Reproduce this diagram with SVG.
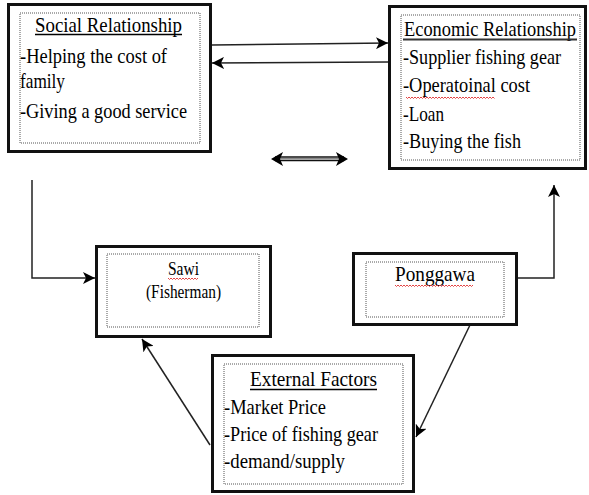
<svg xmlns="http://www.w3.org/2000/svg" width="589" height="495" viewBox="0 0 589 495">
<defs>
<marker id="ah" markerUnits="userSpaceOnUse" markerWidth="14" markerHeight="12" refX="12" refY="6" orient="auto">
<path d="M0,0 L12,6 L0,12 L3,6 Z" fill="#000"/>
</marker>
</defs>
<style>
.outer{fill:#fff;stroke:#111;stroke-width:3}
.inner{fill:none;stroke:#555;stroke-width:1;stroke-dasharray:1 1}
text{font-family:"Liberation Serif","Times New Roman",serif;font-size:21px;fill:#000}
.small{font-size:18px}
.ul{stroke:#000;stroke-width:1.3}
.sq{fill:none;stroke:#e03030;stroke-width:0.9}
.conn{fill:none;stroke:#222;stroke-width:1.5}
</style>
<rect width="589" height="495" fill="#fff"/>
<g id="connectors">
<path class="conn" d="M212,45 L388,43" marker-end="url(#ah)"/>
<path class="conn" d="M388,62 L212,63" marker-end="url(#ah)"/>
<path class="conn" d="M32,180 L32,278 L95,278" marker-end="url(#ah)"/>
<path class="conn" d="M517,278 L554,278 L554,185" marker-end="url(#ah)"/>
<path class="conn" d="M470,325 L416,437" marker-end="url(#ah)"/>
<path class="conn" d="M210,445 L142,339" marker-end="url(#ah)"/>
<g id="double-arrow">
<line x1="275" y1="157" x2="344" y2="157" stroke="#111" stroke-width="1.3"/>
<line x1="275" y1="160.5" x2="344" y2="160.5" stroke="#111" stroke-width="1.3"/>
<line x1="275" y1="158.8" x2="344" y2="158.8" stroke="#888" stroke-width="1.5"/>
<path d="M271,159 L283,152 L280,159 L283,166 Z" fill="#000"/>
<path d="M348,159 L336,152 L339,159 L336,166 Z" fill="#000"/>
</g>
</g>
<g id="social">
<rect class="outer" x="8.5" y="4.5" width="202" height="147"/>
<rect class="inner" x="20" y="13" width="180" height="130"/>
<text x="35" y="32" textLength="147" lengthAdjust="spacingAndGlyphs">Social Relationship</text>
<line class="ul" x1="35" y1="34.5" x2="182" y2="34.5"/>
<text x="20" y="63" textLength="147" lengthAdjust="spacingAndGlyphs">-Helping the cost of</text>
<text x="20" y="88" textLength="45" lengthAdjust="spacingAndGlyphs">family</text>
<text x="20" y="118" textLength="167" lengthAdjust="spacingAndGlyphs">-Giving a good service</text>
</g>
<g id="economic">
<rect class="outer" x="389.5" y="6.5" width="196" height="162"/>
<rect class="inner" x="401" y="15" width="179" height="145"/>
<text x="404" y="36" textLength="172" lengthAdjust="spacingAndGlyphs">Economic Relationship</text>
<line x1="403" y1="39.5" x2="577" y2="39.5" stroke="#333" stroke-width="1.8"/>
<text x="403" y="64" textLength="158" lengthAdjust="spacingAndGlyphs">-Supplier fishing gear</text>
<text x="403" y="92" textLength="127" lengthAdjust="spacingAndGlyphs">-Operatoinal cost</text>
<path class="sq" d="M406,97 l1.5,1.5 l1.5,-1.5 l1.5,1.5 l1.5,-1.5 l1.5,1.5 l1.5,-1.5 l1.5,1.5 l1.5,-1.5 l1.5,1.5 l1.5,-1.5 l1.5,1.5 l1.5,-1.5 l1.5,1.5 l1.5,-1.5 l1.5,1.5 l1.5,-1.5 l1.5,1.5 l1.5,-1.5 l1.5,1.5 l1.5,-1.5 l1.5,1.5 l1.5,-1.5 l1.5,1.5 l1.5,-1.5 l1.5,1.5 l1.5,-1.5 l1.5,1.5 l1.5,-1.5 l1.5,1.5 l1.5,-1.5 l1.5,1.5 l1.5,-1.5 l1.5,1.5 l1.5,-1.5 l1.5,1.5 l1.5,-1.5 l1.5,1.5 l1.5,-1.5 l1.5,1.5 l1.5,-1.5 l1.5,1.5 l1.5,-1.5 l1.5,1.5 l1.5,-1.5 l1.5,1.5 l1.5,-1.5 l1.5,1.5 l1.5,-1.5 l1.5,1.5 l1.5,-1.5 l1.5,1.5 l1.5,-1.5 l1.5,1.5 l1.5,-1.5 l1.5,1.5 l1.5,-1.5 l1.5,1.5 l1.5,-1.5 l1.5,1.5"/>
<text x="403" y="121" textLength="41" lengthAdjust="spacingAndGlyphs">-Loan</text>
<text x="403" y="148" textLength="118" lengthAdjust="spacingAndGlyphs">-Buying the fish</text>
</g>
<g id="sawi">
<rect class="outer" x="96.5" y="246.5" width="174" height="90"/>
<rect class="inner" x="107" y="254" width="152" height="73"/>
<text class="small" x="168" y="275" textLength="31" lengthAdjust="spacingAndGlyphs">Sawi</text>
<path class="sq" d="M168,278 l1.5,1.5 l1.5,-1.5 l1.5,1.5 l1.5,-1.5 l1.5,1.5 l1.5,-1.5 l1.5,1.5 l1.5,-1.5 l1.5,1.5 l1.5,-1.5 l1.5,1.5 l1.5,-1.5 l1.5,1.5 l1.5,-1.5 l1.5,1.5 l1.5,-1.5 l1.5,1.5 l1.5,-1.5 l1.5,1.5 l1.5,-1.5"/>
<text class="small" x="146" y="298" textLength="75" lengthAdjust="spacingAndGlyphs">(Fisherman)</text>
</g>
<g id="ponggawa">
<rect class="outer" x="353.5" y="253.5" width="163" height="71"/>
<rect class="inner" x="366" y="262" width="138" height="55"/>
<text x="395" y="281" textLength="80" lengthAdjust="spacingAndGlyphs">Ponggawa</text>
<path class="sq" d="M395,285 l1.5,1.5 l1.5,-1.5 l1.5,1.5 l1.5,-1.5 l1.5,1.5 l1.5,-1.5 l1.5,1.5 l1.5,-1.5 l1.5,1.5 l1.5,-1.5 l1.5,1.5 l1.5,-1.5 l1.5,1.5 l1.5,-1.5 l1.5,1.5 l1.5,-1.5 l1.5,1.5 l1.5,-1.5 l1.5,1.5 l1.5,-1.5 l1.5,1.5 l1.5,-1.5 l1.5,1.5 l1.5,-1.5 l1.5,1.5 l1.5,-1.5 l1.5,1.5 l1.5,-1.5 l1.5,1.5 l1.5,-1.5 l1.5,1.5 l1.5,-1.5 l1.5,1.5 l1.5,-1.5 l1.5,1.5 l1.5,-1.5 l1.5,1.5 l1.5,-1.5 l1.5,1.5 l1.5,-1.5 l1.5,1.5 l1.5,-1.5 l1.5,1.5 l1.5,-1.5 l1.5,1.5 l1.5,-1.5 l1.5,1.5 l1.5,-1.5 l1.5,1.5 l1.5,-1.5 l1.5,1.5 l1.5,-1.5"/>
</g>
<g id="external">
<rect class="outer" x="212.5" y="355.5" width="201" height="136"/>
<rect class="inner" x="224" y="364" width="179" height="120"/>
<text x="250" y="386" textLength="127" lengthAdjust="spacingAndGlyphs">External Factors</text>
<line class="ul" x1="250" y1="389.5" x2="377" y2="389.5"/>
<text x="224" y="414" textLength="102" lengthAdjust="spacingAndGlyphs">-Market Price</text>
<text x="224" y="441" textLength="154" lengthAdjust="spacingAndGlyphs">-Price of fishing gear</text>
<text x="224" y="468" textLength="121" lengthAdjust="spacingAndGlyphs">-demand/supply</text>
</g>
</svg>
